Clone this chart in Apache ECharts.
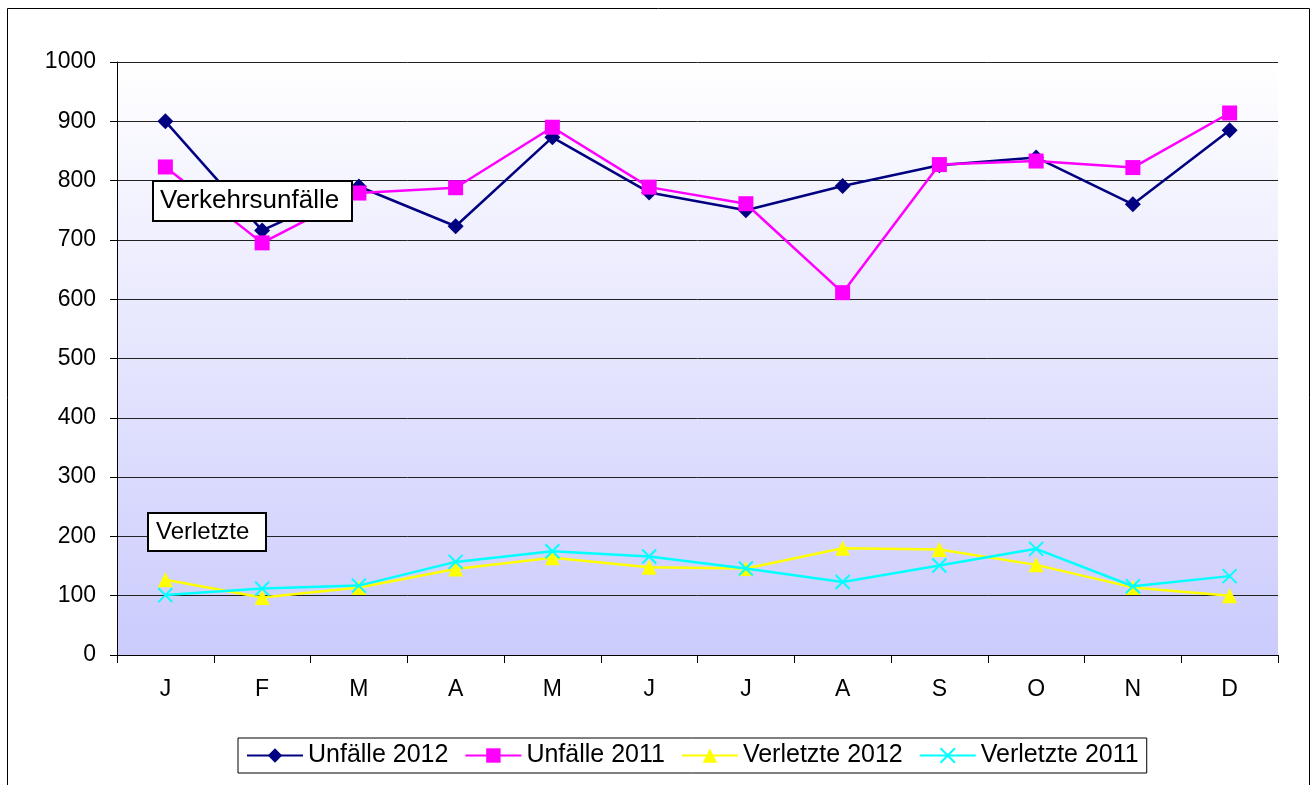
<!DOCTYPE html>
<html>
<head>
<meta charset="utf-8">
<script src="https://cdn.jsdelivr.net/npm/echarts@6/dist/echarts.min.js"></script>
<style>
html, body { margin: 0; padding: 0; background: #fff; }
#chart { width: 1313px; height: 785px; }
</style>
</head>
<body>
<div id="chart"></div>
<script>
// Monatsdaten
var months = ['J', 'F', 'M', 'A', 'M', 'J', 'J', 'A', 'S', 'O', 'N', 'D'];
var unfaelle2012 = [900, 716, 790, 723, 873, 780, 750, 791, 826, 839, 760, 885];
var unfaelle2011 = [823, 695, 779, 788, 890, 789, 761, 611, 827, 833, 822, 914];
var verletzte2012 = [127, 97, 114, 145, 164, 148, 146, 180, 178, 152, 114, 100];
var verletzte2011 = [101, 112, 117, 157, 175, 166, 146, 123, 151, 179, 116, 133];

var fontName = 'Liberation Sans';
var crossSymbol = 'path://M0,0L10,10M10,0L0,10';

var chart = echarts.init(document.getElementById('chart'));
var option = {
    backgroundColor: '#ffffff',
    textStyle: { fontFamily: fontName },
    animation: false,
    grid: {
        left: 117,
        right: 35,
        top: 62,
        bottom: 130,
        show: true,
        borderWidth: 0,
        backgroundColor: {
            type: 'linear', x: 0, y: 0, x2: 0, y2: 1,
            colorStops: [
                { offset: 0, color: '#ffffff' },
                { offset: 1, color: '#cbcbfd' }
            ]
        }
    },
    xAxis: {
        type: 'category',
        data: months,
        boundaryGap: true,
        axisLine: { show: true, lineStyle: { color: '#000', width: 1 } },
        axisTick: { show: true, length: 8, lineStyle: { color: '#000' } },
        axisLabel: { color: '#000', fontSize: 23, margin: 23 }
    },
    yAxis: {
        type: 'value',
        min: 0,
        max: 1000,
        interval: 100,
        axisLine: { show: true, lineStyle: { color: '#000', width: 1 } },
        axisTick: { show: true, length: 7, lineStyle: { color: '#000' } },
        axisLabel: { color: '#000', fontSize: 23, margin: 21, formatter: function(v) { return String(v); } },
        splitLine: { show: true, lineStyle: { color: '#222', width: 1 } }
    },
    legend: {
        bottom: 12,
        left: 238,
        itemWidth: 56,
        itemHeight: 18,
        itemGap: 16,
        padding: [5, 8, 5, 8],
        borderColor: '#000',
        borderWidth: 1,
        backgroundColor: '#fff',
        textStyle: { color: '#000', fontSize: 25 },
        data: ['Unfälle 2012', 'Unfälle 2011', 'Verletzte 2012', 'Verletzte 2011']
    },
    graphic: [
        {
            type: 'rect',
            shape: { x: 7.5, y: 8.5, width: 1302, height: 790 },
            style: { fill: 'none', stroke: '#000', lineWidth: 1 },
            silent: true
        },
        {
            type: 'rect',
            shape: { x: 153, y: 181, width: 199, height: 40 },
            style: { fill: '#fff', stroke: '#000', lineWidth: 2 },
            z: 100
        },
        {
            type: 'text',
            x: 160, y: 201,
            style: { text: 'Verkehrsunfälle', fill: '#000', fontSize: 26, fontFamily: fontName, verticalAlign: 'middle' },
            z: 101
        },
        {
            type: 'rect',
            shape: { x: 148, y: 513, width: 118, height: 38 },
            style: { fill: '#fff', stroke: '#000', lineWidth: 2 },
            z: 100
        },
        {
            type: 'text',
            x: 156, y: 532,
            style: { text: 'Verletzte', fill: '#000', fontSize: 24, fontFamily: fontName, verticalAlign: 'middle' },
            z: 101
        }
    ],
    series: [
        {
            name: 'Unfälle 2012',
            type: 'line',
            data: unfaelle2012,
            symbol: 'diamond',
            symbolSize: 16,
            color: '#000080',
            lineStyle: { width: 2.5, color: '#000080' },
            itemStyle: { color: '#000080' },
            z: 3
        },
        {
            name: 'Unfälle 2011',
            type: 'line',
            data: unfaelle2011,
            symbol: 'rect',
            symbolSize: 15,
            color: '#ff00ff',
            lineStyle: { width: 2.5, color: '#ff00ff' },
            itemStyle: { color: '#ff00ff' },
            z: 4
        },
        {
            name: 'Verletzte 2012',
            type: 'line',
            data: verletzte2012,
            symbol: 'triangle',
            symbolSize: 15,
            color: '#ffff00',
            lineStyle: { width: 2.5, color: '#ffff00' },
            itemStyle: { color: '#ffff00' },
            z: 3
        },
        {
            name: 'Verletzte 2011',
            type: 'line',
            data: verletzte2011,
            symbol: crossSymbol,
            symbolSize: 14,
            color: '#00ffff',
            lineStyle: { width: 2.5, color: '#00ffff' },
            itemStyle: { color: 'none', borderColor: '#00ffff', borderWidth: 2 },
            z: 4
        }
    ]
};
chart.setOption(option);
</script>
</body>
</html>
